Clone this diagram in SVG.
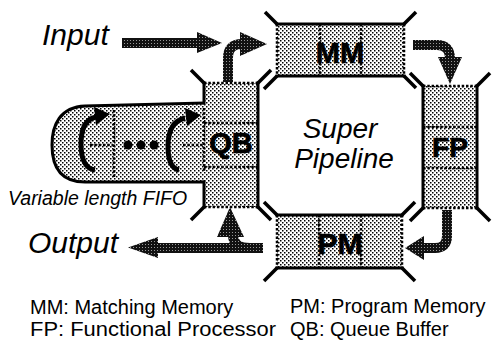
<svg xmlns="http://www.w3.org/2000/svg" width="493" height="343" viewBox="0 0 493 343">
<defs>
<pattern id="stip" width="4" height="4" patternUnits="userSpaceOnUse">
<rect width="4" height="4" fill="#fff"/>
<rect x="0" y="0" width="1.5" height="1.5" fill="#000"/>
<rect x="2" y="2" width="1.5" height="1.5" fill="#000"/>
</pattern>
<pattern id="dark" width="3" height="3" patternUnits="userSpaceOnUse">
<rect width="3" height="3" fill="#111"/>
<rect x="1" y="1" width="1" height="1" fill="#999"/>
</pattern>
<style>
.fill{fill:url(#stip);stroke:none}
.solid{stroke:#000;stroke-width:3;fill:none;stroke-linecap:square}
.stub{stroke:#000;stroke-width:3.5;fill:none;stroke-linecap:butt}
.dot{stroke:#000;stroke-width:2.5;stroke-dasharray:2.5 1.8;fill:none}
.shaft{stroke:url(#dark);stroke-width:10;fill:none}
.head{fill:url(#dark);stroke:none}
.lbl{font-family:"Liberation Sans",Arial,sans-serif;font-weight:bold;fill:#000;stroke:#000;stroke-width:0.7;text-anchor:middle}
.it{font-family:"Liberation Sans",Arial,sans-serif;font-style:italic;fill:#000}
.leg{font-family:"Liberation Sans",Arial,sans-serif;font-size:20px;fill:#000}
</style>
</defs>
<rect width="493" height="343" fill="#fff"/>

<g id="FIFO">
<path d="M205,103 L85,106 C60,107 52,125 52,145 C52,168 62,182 85,182 L205,182 Z" class="fill"/>
<path d="M204,103 L85,106 C60,107 52,125 52,145 C52,168 62,182 85,182 L204,182" class="solid"/>
<line x1="114" y1="110" x2="114" y2="178" class="dot"/>
<line x1="90" y1="145" x2="113" y2="145" class="dot"/>
<line x1="183" y1="145" x2="203" y2="145" class="dot"/>
<circle cx="128" cy="145" r="4.5"/>
<circle cx="141" cy="145" r="4.5"/>
<circle cx="154" cy="145" r="4.5"/>
<path d="M95,170 Q81,168 81,144 Q81,120 96,117" stroke="#000" stroke-width="5" fill="none"/>
<polygon points="110,114 94,107 96,125"/>
<path d="M179,170 Q168,168 168,146 Q168,122 185,118" stroke="#000" stroke-width="5" fill="none"/>
<polygon points="201,115 185,108 187,126"/>
<text class="it" x="8" y="205" font-size="19.5">Variable length FIFO</text>
</g>

<g id="QB">
<rect x="204" y="83" width="54" height="124" class="fill"/>
<line x1="204" y1="83" x2="258" y2="83" class="dot"/>
<line x1="204" y1="207" x2="258" y2="207" class="dot"/>
<line x1="258" y1="83" x2="258" y2="207" class="solid"/>
<line x1="204" y1="83" x2="204" y2="103" class="solid"/>
<line x1="204" y1="182" x2="204" y2="207" class="solid"/>
<line x1="204" y1="108" x2="204" y2="172" class="dot"/>
<line x1="204" y1="123" x2="258" y2="123" class="dot"/>
<line x1="204" y1="167" x2="258" y2="167" class="dot"/>
<line x1="204" y1="83" x2="191" y2="70" class="stub"/>
<line x1="258" y1="83" x2="271" y2="70" class="stub"/>
<line x1="204" y1="207" x2="191" y2="220" class="stub"/>
<line x1="258" y1="207" x2="271" y2="220" class="stub"/>
<text class="lbl" x="231" y="153" font-size="29">QB</text>
</g>

<g id="MM">
<rect x="277" y="24" width="127" height="52" class="fill"/>
<line x1="277" y1="24" x2="277" y2="76" class="dot"/>
<line x1="404" y1="24" x2="404" y2="76" class="dot"/>
<line x1="320" y1="24" x2="320" y2="76" class="dot"/>
<line x1="361" y1="24" x2="361" y2="76" class="dot"/>
<line x1="277" y1="24" x2="404" y2="24" class="solid"/>
<line x1="277" y1="76" x2="404" y2="76" class="solid"/>
<line x1="277" y1="24" x2="265" y2="12" class="stub"/>
<line x1="404" y1="24" x2="416" y2="12" class="stub"/>
<line x1="277" y1="76" x2="264" y2="89" class="stub"/>
<line x1="404" y1="76" x2="416" y2="88" class="stub"/>
<text class="lbl" x="340" y="63" font-size="29">MM</text>
</g>

<g id="FP">
<rect x="423" y="86" width="54" height="122" class="fill"/>
<line x1="423" y1="86" x2="477" y2="86" class="dot"/>
<line x1="423" y1="208" x2="477" y2="208" class="dot"/>
<line x1="423" y1="127" x2="477" y2="127" class="dot"/>
<line x1="423" y1="168" x2="477" y2="168" class="dot"/>
<line x1="423" y1="86" x2="423" y2="208" class="solid"/>
<line x1="477" y1="86" x2="477" y2="208" class="solid"/>
<line x1="423" y1="86" x2="410" y2="73" class="stub"/>
<line x1="477" y1="86" x2="490" y2="73" class="stub"/>
<line x1="423" y1="208" x2="410" y2="221" class="stub"/>
<line x1="477" y1="208" x2="490" y2="221" class="stub"/>
<text class="lbl" x="450" y="157" font-size="28">FP</text>
</g>

<g id="PM">
<rect x="277" y="215" width="125" height="53" class="fill"/>
<line x1="277" y1="215" x2="277" y2="268" class="dot"/>
<line x1="402" y1="215" x2="402" y2="268" class="dot"/>
<line x1="319" y1="215" x2="319" y2="268" class="dot"/>
<line x1="361" y1="215" x2="361" y2="268" class="dot"/>
<line x1="277" y1="215" x2="402" y2="215" class="solid"/>
<line x1="277" y1="268" x2="402" y2="268" class="solid"/>
<line x1="277" y1="215" x2="264" y2="202" class="stub"/>
<line x1="402" y1="215" x2="415" y2="202" class="stub"/>
<line x1="277" y1="268" x2="264" y2="281" class="stub"/>
<line x1="402" y1="268" x2="415" y2="281" class="stub"/>
<text class="lbl" x="340" y="254" font-size="30">PM</text>
</g>

<g id="SuperPipeline">
<text class="it" x="340" y="138" font-size="28" text-anchor="middle">Super</text>
<text class="it" x="344" y="168" font-size="28" text-anchor="middle">Pipeline</text>
</g>

<g id="Input">
<text class="it" x="42" y="45" font-size="30">Input</text>
</g>
<g id="Output">
<text class="it" x="28" y="253" font-size="30">Output</text>
</g>

<g id="connectors">
<line x1="122" y1="43" x2="199" y2="43" class="shaft"/>
<polygon points="197,32 222,43 197,53" class="head"/>
<path d="M228,82 V58 Q228,44 242,44" class="shaft"/>
<polygon points="240,32 267,44 240,56" class="head"/>
<path d="M413,45 H437 Q450,45 450,59" class="shaft"/>
<polygon points="438,57 462,57 450,84" class="head"/>
<path d="M447,210 V236 Q447,248 435,248 H422" class="shaft"/>
<polygon points="424,236 405,248 424,260" class="head"/>
<line x1="263" y1="248" x2="156" y2="248" class="shaft"/>
<polygon points="158,237 128,247.5 158,258" class="head"/>
<path d="M250,248 Q233,248 233,235" class="shaft"/>
<polygon points="217,237 230,207 244,237" class="head"/>
</g>

<g id="legend">
<text class="leg" x="30" y="314">MM: Matching Memory</text>
<text class="leg" x="30" y="336" textLength="246" lengthAdjust="spacingAndGlyphs">FP: Functional Processor</text>
<text class="leg" x="290" y="313">PM: Program Memory</text>
<text class="leg" x="290" y="336">QB: Queue Buffer</text>
</g>
</svg>
